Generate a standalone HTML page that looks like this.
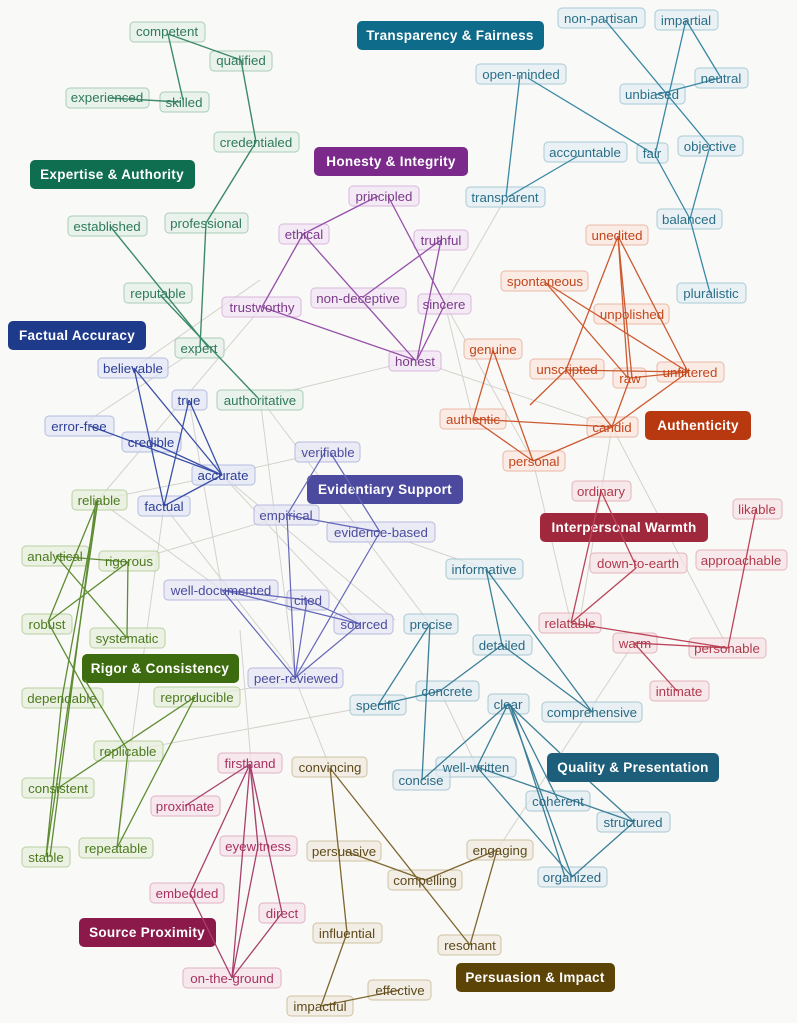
<!DOCTYPE html>
<html><head><meta charset="utf-8"><style>
html,body{margin:0;padding:0;background:#f9f9f7;}
svg{display:block;}
text{font-family:"Liberation Sans",sans-serif;font-size:13.3px;text-anchor:middle;}
.h text{font-weight:bold;font-size:13.5px;fill:#fff;letter-spacing:0.3px;}
.g line{stroke:#d4d2cc;stroke-width:1;}
</style></head><body>
<svg width="797" height="1023" viewBox="0 0 797 1023" xmlns="http://www.w3.org/2000/svg">
<rect width="797" height="1023" fill="#f9f9f7"/>
<g class="g">
<line x1="262" y1="307" x2="98" y2="500"/>
<line x1="506" y1="197" x2="445" y2="304"/>
<line x1="445" y1="304" x2="473" y2="419"/>
<line x1="445" y1="304" x2="533" y2="461"/>
<line x1="415" y1="360" x2="612" y2="427"/>
<line x1="533" y1="461" x2="571" y2="623"/>
<line x1="612" y1="427" x2="728" y2="648"/>
<line x1="612" y1="427" x2="580" y2="620"/>
<line x1="222" y1="475" x2="325" y2="452"/>
<line x1="222" y1="475" x2="98" y2="500"/>
<line x1="260" y1="398" x2="295" y2="678"/>
<line x1="260" y1="398" x2="430" y2="624"/>
<line x1="189" y1="400" x2="222" y2="590"/>
<line x1="287" y1="515" x2="128" y2="562"/>
<line x1="222" y1="590" x2="98" y2="500"/>
<line x1="295" y1="678" x2="330" y2="768"/>
<line x1="258" y1="846" x2="240" y2="630"/>
<line x1="128" y1="751" x2="378" y2="705"/>
<line x1="497" y1="850" x2="634" y2="643"/>
<line x1="440" y1="691" x2="477" y2="767"/>
<line x1="222" y1="475" x2="360" y2="624"/>
<line x1="164" y1="506" x2="300" y2="680"/>
<line x1="200" y1="347" x2="80" y2="426"/>
<line x1="134" y1="368" x2="260" y2="280"/>
<line x1="380" y1="532" x2="486" y2="569"/>
<line x1="164" y1="506" x2="117" y2="848"/>
<line x1="222" y1="475" x2="395" y2="620"/>
<line x1="300" y1="680" x2="195" y2="697"/>
<line x1="415" y1="360" x2="260" y2="398"/>
</g>
<g class="h">
<rect x="30" y="160" width="165" height="29" rx="5" fill="#0f6e4f"/><text x="112" y="179">Expertise &amp; Authority</text>
<rect x="357" y="21" width="187" height="29" rx="5" fill="#0e6b8a"/><text x="450" y="40">Transparency &amp; Fairness</text>
<rect x="314" y="147" width="154" height="29" rx="5" fill="#7b2a8c"/><text x="391" y="166">Honesty &amp; Integrity</text>
<rect x="8" y="321" width="138" height="29" rx="5" fill="#1e3a8a"/><text x="77" y="340">Factual Accuracy</text>
<rect x="645" y="411" width="106" height="29" rx="5" fill="#b8380f"/><text x="698" y="430">Authenticity</text>
<rect x="307" y="475" width="156" height="29" rx="5" fill="#4b4a9e"/><text x="385" y="494">Evidentiary Support</text>
<rect x="540" y="513" width="168" height="29" rx="5" fill="#a0283c"/><text x="624" y="532">Interpersonal Warmth</text>
<rect x="82" y="654" width="157" height="29" rx="5" fill="#3d6b0f"/><text x="160" y="673">Rigor &amp; Consistency</text>
<rect x="547" y="753" width="172" height="29" rx="5" fill="#1d5f7a"/><text x="633" y="772">Quality &amp; Presentation</text>
<rect x="79" y="918" width="137" height="29" rx="5" fill="#8b1a4a"/><text x="147" y="937">Source Proximity</text>
<rect x="456" y="963" width="159" height="29" rx="5" fill="#5c4306"/><text x="535" y="982">Persuasion &amp; Impact</text>
</g>

<g fill="#e4efe8" fill-opacity="0.7" stroke="#a9cdb9">
<rect x="130" y="22" width="75" height="20" rx="4"/><rect x="210" y="51" width="62" height="20" rx="4"/>
<rect x="66" y="88" width="83" height="20" rx="4"/><rect x="160" y="92" width="49" height="20" rx="4"/>
<rect x="214" y="132" width="85" height="20" rx="4"/><rect x="68" y="216" width="79" height="20" rx="4"/>
<rect x="165" y="213" width="83" height="20" rx="4"/><rect x="124" y="283" width="68" height="20" rx="4"/>
<rect x="175" y="338" width="49" height="20" rx="4"/><rect x="217" y="390" width="86" height="20" rx="4"/>
</g>
<g fill="#e2eef2" fill-opacity="0.7" stroke="#a9cbd7">
<rect x="558" y="8" width="87" height="20" rx="4"/><rect x="655" y="10" width="63" height="20" rx="4"/>
<rect x="476" y="64" width="90" height="20" rx="4"/><rect x="695" y="68" width="53" height="20" rx="4"/>
<rect x="620" y="84" width="65" height="20" rx="4"/><rect x="544" y="142" width="83" height="20" rx="4"/>
<rect x="637" y="143" width="31" height="20" rx="4"/><rect x="678" y="136" width="65" height="20" rx="4"/>
<rect x="466" y="187" width="79" height="20" rx="4"/><rect x="657" y="209" width="65" height="20" rx="4"/>
<rect x="677" y="283" width="69" height="20" rx="4"/>
</g>
<g fill="#f2e4f3" fill-opacity="0.7" stroke="#d9b8dd">
<rect x="349" y="186" width="70" height="20" rx="4"/><rect x="279" y="224" width="50" height="20" rx="4"/>
<rect x="414" y="230" width="54" height="20" rx="4"/><rect x="311" y="288" width="95" height="20" rx="4"/>
<rect x="222" y="297" width="79" height="20" rx="4"/><rect x="418" y="294" width="53" height="20" rx="4"/>
<rect x="389" y="351" width="52" height="20" rx="4"/>
</g>
<g fill="#fbe6dd" fill-opacity="0.7" stroke="#eab8a5">
<rect x="586" y="225" width="62" height="20" rx="4"/><rect x="501" y="271" width="87" height="20" rx="4"/>
<rect x="594" y="304" width="75" height="20" rx="4"/><rect x="464" y="339" width="58" height="20" rx="4"/>
<rect x="530" y="359" width="74" height="20" rx="4"/><rect x="613" y="368" width="33" height="20" rx="4"/>
<rect x="657" y="362" width="67" height="20" rx="4"/><rect x="440" y="409" width="66" height="20" rx="4"/>
<rect x="587" y="417" width="51" height="20" rx="4"/><rect x="503" y="451" width="62" height="20" rx="4"/>
</g>
<g fill="#f7e2e5" fill-opacity="0.7" stroke="#e2b3bb">
<rect x="572" y="481" width="59" height="20" rx="4"/><rect x="733" y="499" width="49" height="20" rx="4"/>
<rect x="590" y="553" width="97" height="20" rx="4"/><rect x="696" y="550" width="91" height="20" rx="4"/>
<rect x="539" y="613" width="62" height="20" rx="4"/><rect x="613" y="633" width="44" height="20" rx="4"/>
<rect x="689" y="638" width="77" height="20" rx="4"/><rect x="650" y="681" width="59" height="20" rx="4"/>
</g>
<g fill="#e6e6f4" fill-opacity="0.7" stroke="#b8b9de">
<rect x="295" y="442" width="65" height="20" rx="4"/><rect x="254" y="505" width="65" height="20" rx="4"/>
<rect x="327" y="522" width="108" height="20" rx="4"/><rect x="164" y="580" width="114" height="20" rx="4"/>
<rect x="287" y="590" width="42" height="20" rx="4"/><rect x="334" y="614" width="59" height="20" rx="4"/>
<rect x="248" y="668" width="95" height="20" rx="4"/>
</g>
<g fill="#e3e7f5" fill-opacity="0.7" stroke="#b3bde0">
<rect x="98" y="358" width="70" height="20" rx="4"/><rect x="172" y="390" width="35" height="20" rx="4"/>
<rect x="45" y="416" width="69" height="20" rx="4"/><rect x="122" y="432" width="59" height="20" rx="4"/>
<rect x="192" y="465" width="63" height="20" rx="4"/><rect x="138" y="496" width="52" height="20" rx="4"/>
</g>
<g fill="#e6efdb" fill-opacity="0.7" stroke="#bad0a0">
<rect x="72" y="490" width="55" height="20" rx="4"/><rect x="22" y="546" width="67" height="20" rx="4"/>
<rect x="99" y="551" width="60" height="20" rx="4"/><rect x="22" y="614" width="50" height="20" rx="4"/>
<rect x="90" y="628" width="75" height="20" rx="4"/><rect x="22" y="688" width="81" height="20" rx="4"/>
<rect x="154" y="687" width="86" height="20" rx="4"/><rect x="94" y="741" width="69" height="20" rx="4"/>
<rect x="22" y="778" width="72" height="20" rx="4"/><rect x="79" y="838" width="74" height="20" rx="4"/>
<rect x="22" y="847" width="48" height="20" rx="4"/>
</g>
<g fill="#f6e1ea" fill-opacity="0.7" stroke="#e0b3c6">
<rect x="218" y="753" width="64" height="20" rx="4"/><rect x="151" y="796" width="69" height="20" rx="4"/>
<rect x="220" y="836" width="77" height="20" rx="4"/><rect x="150" y="883" width="74" height="20" rx="4"/>
<rect x="259" y="903" width="46" height="20" rx="4"/><rect x="183" y="968" width="98" height="20" rx="4"/>
</g>
<g fill="#efe9dd" fill-opacity="0.7" stroke="#cfc2a3">
<rect x="292" y="757" width="75" height="20" rx="4"/><rect x="307" y="841" width="74" height="20" rx="4"/>
<rect x="467" y="840" width="66" height="20" rx="4"/><rect x="388" y="870" width="74" height="20" rx="4"/>
<rect x="313" y="923" width="69" height="20" rx="4"/><rect x="438" y="935" width="63" height="20" rx="4"/>
<rect x="368" y="980" width="63" height="20" rx="4"/><rect x="287" y="996" width="66" height="20" rx="4"/>
</g>
<g fill="#e2edf1" fill-opacity="0.7" stroke="#a9c7d3">
<rect x="446" y="559" width="77" height="20" rx="4"/><rect x="404" y="614" width="54" height="20" rx="4"/>
<rect x="473" y="635" width="59" height="20" rx="4"/><rect x="350" y="695" width="56" height="20" rx="4"/>
<rect x="416" y="681" width="63" height="20" rx="4"/><rect x="488" y="694" width="41" height="20" rx="4"/>
<rect x="542" y="702" width="100" height="20" rx="4"/><rect x="436" y="757" width="80" height="20" rx="4"/>
<rect x="393" y="770" width="57" height="20" rx="4"/><rect x="526" y="791" width="64" height="20" rx="4"/>
<rect x="597" y="812" width="73" height="20" rx="4"/><rect x="538" y="867" width="69" height="20" rx="4"/>
</g>

<g stroke="#3d8a6a" stroke-width="1.4" fill="none">
<line x1="168" y1="34" x2="183" y2="100"/><line x1="168" y1="34" x2="241" y2="60"/>
<line x1="110" y1="98" x2="180" y2="102"/><line x1="241" y1="60" x2="256" y2="142"/>
<line x1="256" y1="142" x2="206" y2="223"/><line x1="206" y1="223" x2="200" y2="347"/>
<line x1="110" y1="226" x2="208" y2="347"/><line x1="160" y1="295" x2="258" y2="398"/>
</g>
<g stroke="#9650a8" stroke-width="1.3" fill="none">
<line x1="378" y1="196" x2="303" y2="234"/><line x1="303" y1="234" x2="262" y2="307"/>
<line x1="303" y1="234" x2="415" y2="360"/><line x1="388" y1="196" x2="445" y2="304"/>
<line x1="441" y1="240" x2="363" y2="297"/><line x1="441" y1="240" x2="417" y2="360"/>
<line x1="445" y1="304" x2="417" y2="360"/><line x1="262" y1="307" x2="415" y2="360"/>
</g>
<g stroke="#3a88a4" stroke-width="1.3" fill="none">
<line x1="605" y1="20" x2="710" y2="146"/><line x1="686" y1="20" x2="721" y2="78"/>
<line x1="686" y1="20" x2="655" y2="155"/><line x1="655" y1="95" x2="720" y2="78"/>
<line x1="520" y1="75" x2="506" y2="197"/><line x1="528" y1="78" x2="652" y2="153"/>
<line x1="578" y1="156" x2="508" y2="197"/><line x1="655" y1="155" x2="690" y2="219"/>
<line x1="710" y1="146" x2="690" y2="219"/><line x1="690" y1="219" x2="710" y2="293"/>
</g>
<g stroke="#cc5a30" stroke-width="1.3" fill="none">
<line x1="618" y1="236" x2="566" y2="370"/><line x1="618" y1="236" x2="628" y2="378"/>
<line x1="618" y1="236" x2="632" y2="378"/><line x1="618" y1="236" x2="688" y2="372"/>
<line x1="546" y1="283" x2="628" y2="378"/><line x1="546" y1="283" x2="688" y2="372"/>
<line x1="566" y1="370" x2="688" y2="372"/><line x1="566" y1="370" x2="612" y2="427"/>
<line x1="630" y1="378" x2="688" y2="372"/><line x1="630" y1="378" x2="612" y2="427"/>
<line x1="688" y1="372" x2="612" y2="427"/>
<line x1="493" y1="350" x2="473" y2="419"/><line x1="493" y1="350" x2="533" y2="461"/>
<line x1="473" y1="419" x2="612" y2="427"/><line x1="473" y1="419" x2="533" y2="461"/>
<line x1="612" y1="427" x2="533" y2="461"/><line x1="566" y1="370" x2="530" y2="405"/>
</g>
<g stroke="#bb4458" stroke-width="1.3" fill="none">
<line x1="601" y1="491" x2="571" y2="623"/><line x1="601" y1="491" x2="636" y2="566"/>
<line x1="636" y1="568" x2="571" y2="623"/><line x1="571" y1="623" x2="728" y2="648"/>
<line x1="634" y1="643" x2="728" y2="648"/><line x1="634" y1="643" x2="677" y2="691"/>
<line x1="756" y1="509" x2="728" y2="648"/>
</g>
<g stroke="#6466b8" stroke-width="1.2" fill="none">
<line x1="325" y1="452" x2="287" y2="515"/><line x1="330" y1="452" x2="380" y2="532"/>
<line x1="287" y1="515" x2="380" y2="532"/><line x1="287" y1="515" x2="295" y2="678"/>
<line x1="222" y1="590" x2="360" y2="624"/><line x1="222" y1="590" x2="307" y2="600"/>
<line x1="222" y1="590" x2="295" y2="678"/><line x1="307" y1="600" x2="360" y2="624"/>
<line x1="307" y1="600" x2="295" y2="678"/><line x1="360" y1="624" x2="295" y2="678"/>
<line x1="380" y1="532" x2="295" y2="678"/>
</g>
<g stroke="#3a4fa8" stroke-width="1.3" fill="none">
<line x1="134" y1="368" x2="164" y2="506"/><line x1="134" y1="368" x2="222" y2="475"/>
<line x1="189" y1="400" x2="164" y2="506"/><line x1="189" y1="400" x2="222" y2="475"/>
<line x1="90" y1="426" x2="222" y2="475"/><line x1="150" y1="442" x2="222" y2="475"/>
<line x1="164" y1="506" x2="222" y2="475"/>
</g>
<g stroke="#5e8c32" stroke-width="1.3" fill="none">
<line x1="98" y1="500" x2="48" y2="622"/><line x1="98" y1="500" x2="46" y2="857"/>
<line x1="96" y1="500" x2="50" y2="857"/><line x1="98" y1="500" x2="62" y2="698"/>
<line x1="56" y1="556" x2="128" y2="562"/><line x1="56" y1="556" x2="127" y2="638"/>
<line x1="128" y1="562" x2="127" y2="638"/><line x1="128" y1="562" x2="48" y2="622"/>
<line x1="48" y1="622" x2="95" y2="708"/><line x1="62" y1="698" x2="46" y2="857"/>
<line x1="195" y1="697" x2="58" y2="788"/><line x1="195" y1="697" x2="117" y2="848"/>
<line x1="128" y1="751" x2="117" y2="848"/><line x1="85" y1="680" x2="128" y2="751"/>
</g>
<g stroke="#a8406c" stroke-width="1.3" fill="none">
<line x1="250" y1="764" x2="185" y2="806"/><line x1="250" y1="764" x2="190" y2="893"/>
<line x1="250" y1="764" x2="232" y2="978"/><line x1="250" y1="764" x2="258" y2="846"/>
<line x1="250" y1="764" x2="282" y2="913"/><line x1="190" y1="893" x2="232" y2="978"/>
<line x1="282" y1="913" x2="232" y2="978"/><line x1="258" y1="846" x2="232" y2="978"/>
</g>
<g stroke="#7d6630" stroke-width="1.3" fill="none">
<line x1="330" y1="768" x2="347" y2="933"/><line x1="347" y1="933" x2="321" y2="1006"/>
<line x1="330" y1="768" x2="470" y2="945"/><line x1="345" y1="851" x2="425" y2="880"/>
<line x1="497" y1="850" x2="425" y2="880"/><line x1="497" y1="850" x2="470" y2="945"/>
<line x1="321" y1="1006" x2="400" y2="990"/>
</g>
<g stroke="#3b7f98" stroke-width="1.3" fill="none">
<line x1="486" y1="569" x2="502" y2="645"/><line x1="486" y1="569" x2="592" y2="712"/>
<line x1="502" y1="645" x2="592" y2="712"/><line x1="502" y1="645" x2="440" y2="691"/>
<line x1="430" y1="624" x2="378" y2="705"/><line x1="430" y1="624" x2="422" y2="780"/>
<line x1="440" y1="691" x2="378" y2="705"/><line x1="508" y1="704" x2="422" y2="780"/>
<line x1="508" y1="704" x2="477" y2="767"/><line x1="508" y1="704" x2="572" y2="877"/>
<line x1="510" y1="704" x2="565" y2="877"/><line x1="508" y1="704" x2="560" y2="753"/>
<line x1="477" y1="767" x2="634" y2="822"/><line x1="477" y1="767" x2="572" y2="877"/>
<line x1="590" y1="782" x2="634" y2="822"/><line x1="634" y1="822" x2="572" y2="877"/>
<line x1="510" y1="704" x2="558" y2="800"/>
</g>

<g fill="#2f7a5a">
<text x="167" y="36">competent</text><text x="241" y="65">qualified</text>
<text x="107" y="102">experienced</text><text x="184" y="107">skilled</text>
<text x="256" y="147">credentialed</text><text x="107" y="231">established</text>
<text x="206" y="228">professional</text><text x="158" y="298">reputable</text>
<text x="199" y="353">expert</text><text x="260" y="405">authoritative</text>
</g>
<g fill="#2a6f88">
<text x="601" y="23">non-partisan</text><text x="686" y="25">impartial</text>
<text x="521" y="79">open-minded</text><text x="721" y="83">neutral</text>
<text x="652" y="99">unbiased</text><text x="585" y="157">accountable</text>
<text x="652" y="158">fair</text><text x="710" y="151">objective</text>
<text x="505" y="202">transparent</text><text x="689" y="224">balanced</text>
<text x="711" y="298">pluralistic</text>
</g>
<g fill="#7b3a8a">
<text x="384" y="201">principled</text><text x="304" y="239">ethical</text>
<text x="441" y="245">truthful</text><text x="358" y="303">non-deceptive</text>
<text x="262" y="312">trustworthy</text><text x="444" y="309">sincere</text>
<text x="415" y="366">honest</text>
</g>
<g fill="#c2471c">
<text x="617" y="240">unedited</text><text x="545" y="286">spontaneous</text>
<text x="632" y="319">unpolished</text><text x="493" y="354">genuine</text>
<text x="567" y="374">unscripted</text><text x="630" y="383">raw</text>
<text x="690" y="377">unfiltered</text><text x="473" y="424">authentic</text>
<text x="612" y="432">candid</text><text x="534" y="466">personal</text>
</g>
<g fill="#b03a4c">
<text x="601" y="496">ordinary</text><text x="757" y="514">likable</text>
<text x="638" y="568">down-to-earth</text><text x="741" y="565">approachable</text>
<text x="570" y="628">relatable</text><text x="635" y="648">warm</text>
<text x="727" y="653">personable</text><text x="679" y="696">intimate</text>
</g>
<g fill="#4a4c9e">
<text x="328" y="457">verifiable</text><text x="286" y="520">empirical</text>
<text x="381" y="537">evidence-based</text><text x="221" y="595">well-documented</text>
<text x="308" y="605">cited</text><text x="364" y="629">sourced</text>
<text x="296" y="683">peer-reviewed</text>
</g>
<g fill="#2d3f95">
<text x="133" y="373">believable</text><text x="189" y="405">true</text>
<text x="79" y="431">error-free</text><text x="151" y="447">credible</text>
<text x="223" y="480">accurate</text><text x="164" y="511">factual</text>
</g>
<g fill="#4d7a1e">
<text x="99" y="505">reliable</text><text x="55" y="561">analytical</text>
<text x="129" y="566">rigorous</text><text x="47" y="629">robust</text>
<text x="127" y="643">systematic</text><text x="62" y="703">dependable</text>
<text x="197" y="702">reproducible</text><text x="128" y="756">replicable</text>
<text x="58" y="793">consistent</text><text x="116" y="853">repeatable</text>
<text x="46" y="862">stable</text>
</g>
<g fill="#a8325f">
<text x="250" y="768">firsthand</text><text x="185" y="811">proximate</text>
<text x="258" y="851">eyewitness</text><text x="187" y="898">embedded</text>
<text x="282" y="918">direct</text><text x="232" y="983">on-the-ground</text>
</g>
<g fill="#5e4a1a">
<text x="330" y="772">convincing</text><text x="344" y="856">persuasive</text>
<text x="500" y="855">engaging</text><text x="425" y="885">compelling</text>
<text x="347" y="938">influential</text><text x="470" y="950">resonant</text>
<text x="400" y="995">effective</text><text x="320" y="1011">impactful</text>
</g>
<g fill="#2a6a84">
<text x="484" y="574">informative</text><text x="431" y="629">precise</text>
<text x="502" y="650">detailed</text><text x="378" y="710">specific</text>
<text x="447" y="696">concrete</text><text x="508" y="709">clear</text>
<text x="592" y="717">comprehensive</text><text x="476" y="772">well-written</text>
<text x="421" y="785">concise</text><text x="558" y="806">coherent</text>
<text x="633" y="827">structured</text><text x="572" y="882">organized</text>
</g>
</svg>
</body></html>
